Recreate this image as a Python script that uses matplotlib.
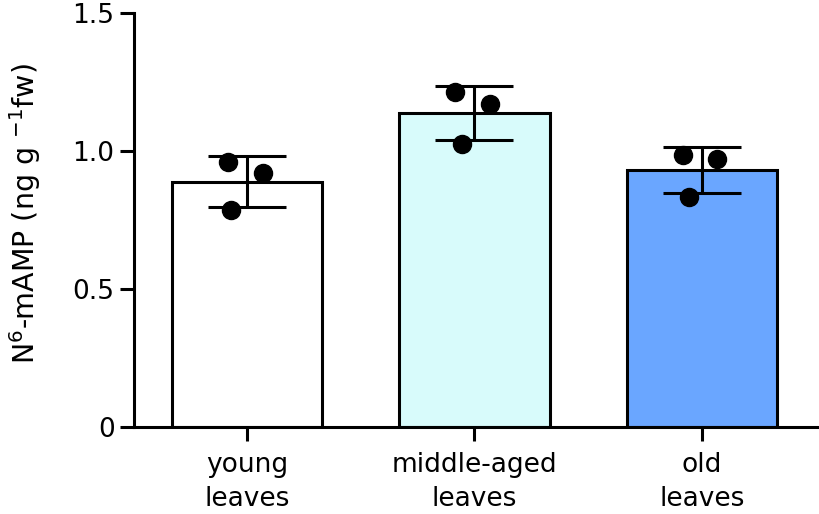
import matplotlib
matplotlib.use("Agg")
import matplotlib.pyplot as plt
import numpy as np

plt.rcParams['font.family'] = ['DejaVu Sans']

# data
groups = ['young\nleaves', 'middle-aged\nleaves', 'old\nleaves']
means = [0.890, 1.137, 0.931]
sds = [0.093, 0.098, 0.084]
points = [
    [0.961, 0.921, 0.787],
    [1.215, 1.171, 1.026],
    [0.986, 0.973, 0.835],
]
# horizontal scatter of the dots inside each bar
jitter = [
    [-0.084, 0.070, -0.070],
    [-0.084, 0.070, -0.053],
    [-0.084, 0.066, -0.057],
]
colors = ['#FFFFFF', '#D8FBFB', '#6AA6FF']

fig = plt.figure(figsize=(8.2, 5.14), dpi=100)
ax = fig.add_axes([0.1634, 0.1693, 0.8366, 0.8048])

x = np.arange(len(groups))
lw = 2.2
ax.bar(x, means, width=0.66, color=colors, edgecolor='black', linewidth=lw, zorder=1)
ax.errorbar(x, means, yerr=sds, fmt='none', ecolor='black', elinewidth=lw,
            capsize=28, capthick=lw, zorder=2)
for i in range(len(groups)):
    ax.plot(x[i] + np.array(jitter[i]), points[i], 'o', color='black',
            markersize=13, zorder=3)

ax.set_xlim(-0.497, 2.519)
ax.set_ylim(0, 1.5)
ax.set_yticks([0, 0.5, 1.0, 1.5])
ax.set_yticklabels(['0', '0.5', '1.0', '1.5'])
ax.set_xticks(x)
ax.set_xticklabels(groups, linespacing=1.4)

for s in ['top', 'right']:
    ax.spines[s].set_visible(False)
for s in ['left', 'bottom']:
    ax.spines[s].set_linewidth(lw)
ax.tick_params(width=lw, length=10, labelsize=19)
ax.tick_params(axis='x', pad=8)
ax.tick_params(axis='y', pad=4)

ax.set_ylabel('N$^{6}$-mAMP (ng g $^{-1}$fw)', fontsize=20.5)
ax.yaxis.set_label_coords(-0.133, 0.517)

fig.savefig('out.png', dpi=100)
